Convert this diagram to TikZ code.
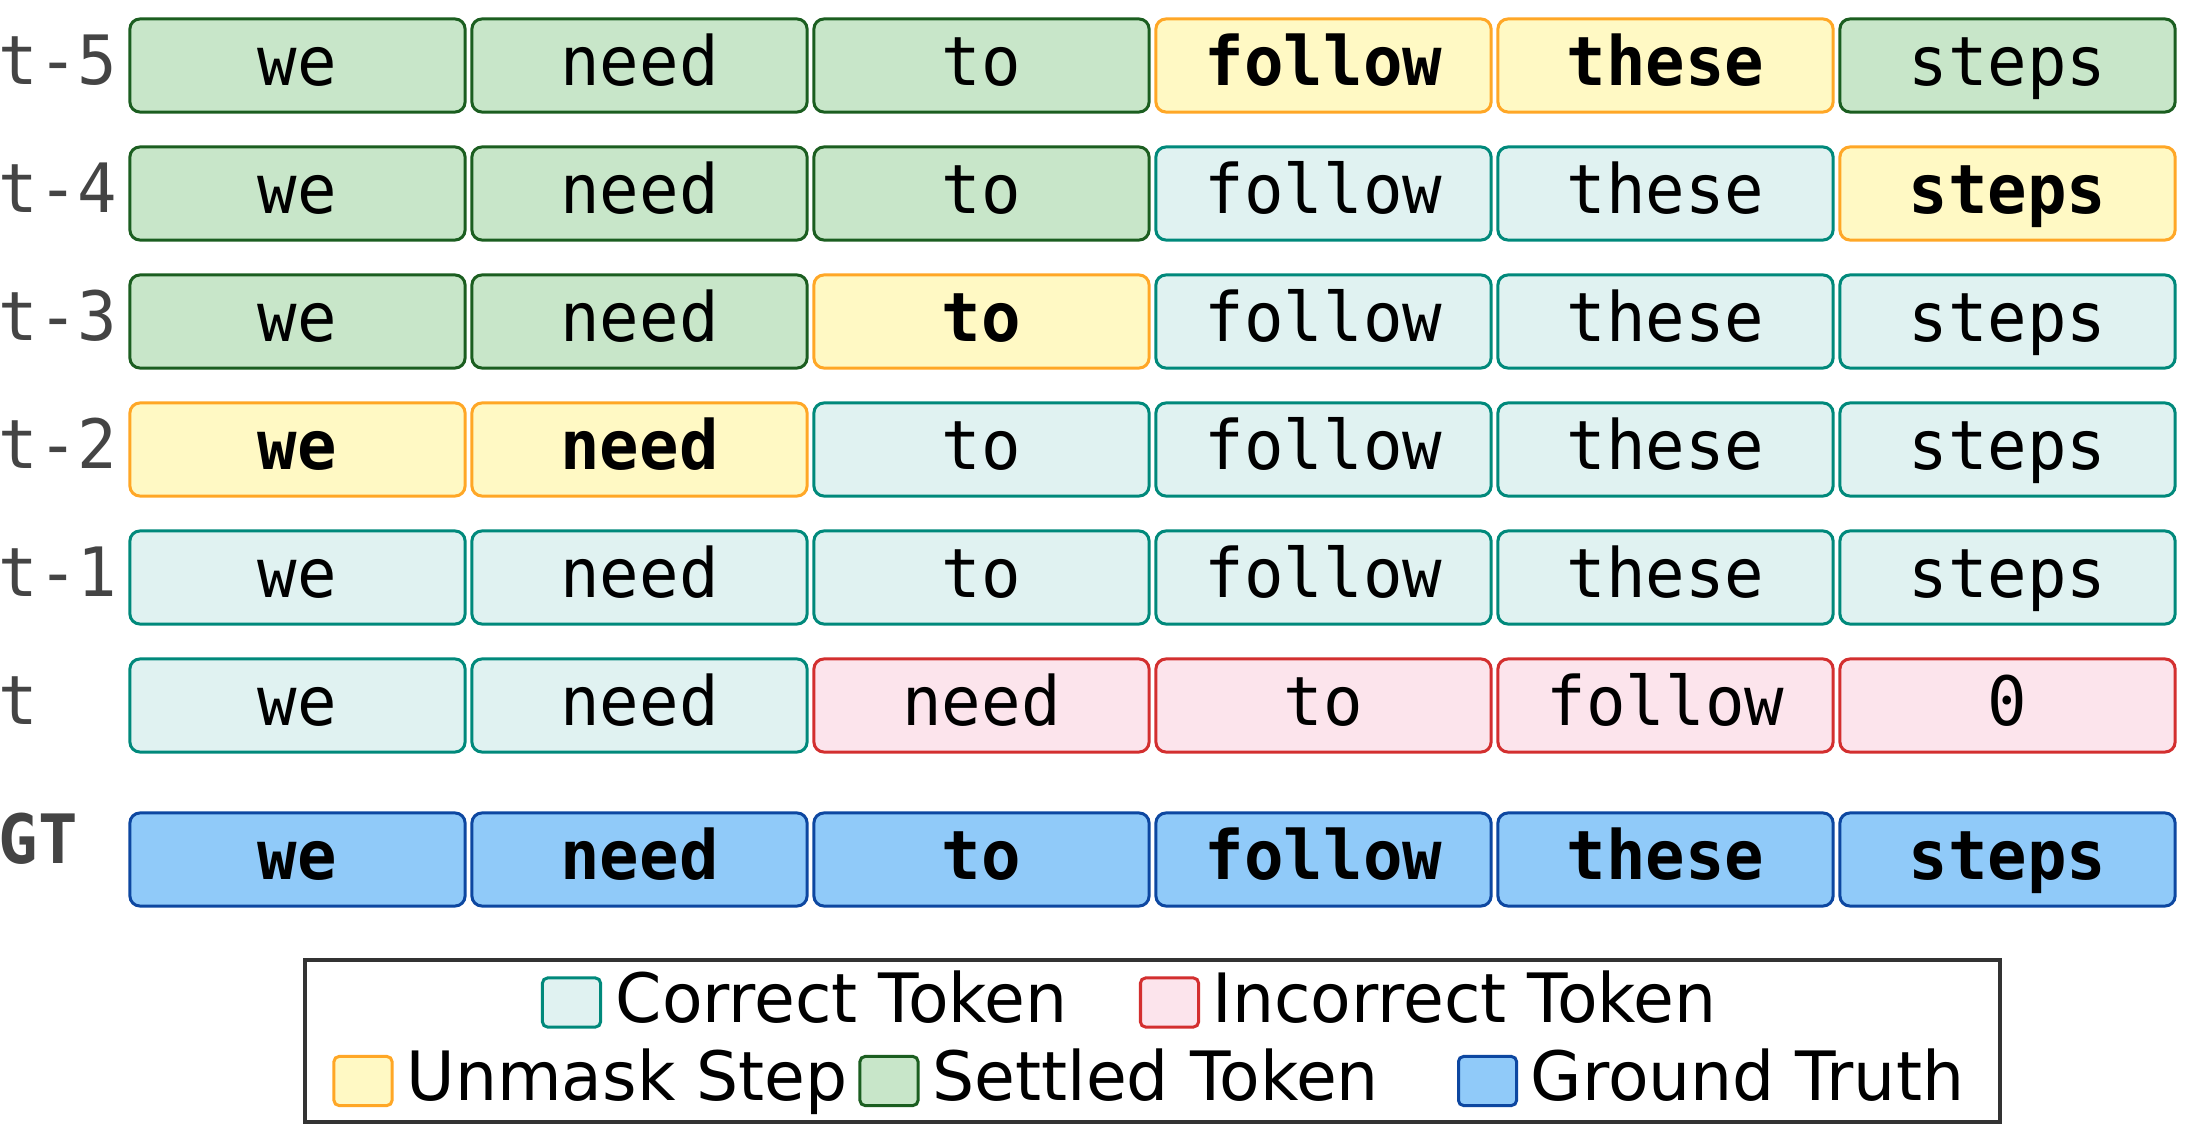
\documentclass[tikz,border=0pt]{standalone}
\usepackage{fontspec}
\setmainfont{DejaVu Sans}[FakeStretch=0.975]
\setmonofont{DejaVu Sans Mono}[FakeStretch=0.965]
\definecolor{corF}{HTML}{E0F2F1}\definecolor{corD}{HTML}{00897B}
\definecolor{incF}{HTML}{FCE4EC}\definecolor{incD}{HTML}{D32F2F}
\definecolor{unmF}{HTML}{FFF9C4}\definecolor{unmD}{HTML}{FFA726}
\definecolor{setF}{HTML}{C8E6C9}\definecolor{setD}{HTML}{1B5E20}
\definecolor{gtF}{HTML}{90CAF9}\definecolor{gtD}{HTML}{0D47A1}
\definecolor{lbl}{HTML}{444444}
\definecolor{frm}{HTML}{333333}
\newcommand{\tokfont}{\ttfamily\fontsize{19.35pt}{23pt}\selectfont}
\newcommand{\legfont}{\rmfamily\fontsize{19.35pt}{23pt}\selectfont}
\tikzset{
  tok/.style={rounded corners=0.1cm, line width=0.03cm, inner sep=0pt,
    minimum width=3.35cm, minimum height=0.93cm, text height=0.5cm, text depth=0.11cm,
    font=\tokfont},
  tokC/.style={tok, fill=corF, draw=corD},
  tokI/.style={tok, fill=incF, draw=incD},
  tokU/.style={tok, fill=unmF, draw=unmD, font=\tokfont\bfseries},
  tokS/.style={tok, fill=setF, draw=setD},
  tokG/.style={tok, fill=gtF, draw=gtD, font=\tokfont\bfseries},
  rowlbl/.style={anchor=base west, inner sep=0pt, text=lbl, font=\tokfont},
  patch/.style={rounded corners=0.05cm, line width=0.03cm, inner sep=0pt,
    minimum width=0.58cm, minimum height=0.49cm},
  legtxt/.style={anchor=base west, inner sep=0pt, font=\legfont},
}
\begin{document}
\begin{tikzpicture}[x=0.01cm, y=-0.01cm]
\useasboundingbox[fill=white] (0,0) rectangle (2200,1125);
% row labels
\node[rowlbl] (l0) at (-2,85) {t-5};
\node[rowlbl] (l1) at (-2,213) {t-4};
\node[rowlbl] (l2) at (-2,341) {t-3};
\node[rowlbl] (l3) at (-2,469) {t-2};
\node[rowlbl] (l4) at (-2,597) {t-1};
\node[rowlbl] (l5) at (-2,725) {t};
\node[rowlbl, font=\tokfont\bfseries] (lg) at (-2,863) {GT};
% rows
\foreach \st/\w [count=\c from 0] in {tokS/we, tokS/need, tokS/to, tokU/follow, tokU/these, tokS/steps}
  \node[\st] (r0c\c) at ({297.5+342*\c}, 65.5) {\w};
\foreach \st/\w [count=\c from 0] in {tokS/we, tokS/need, tokS/to, tokC/follow, tokC/these, tokU/steps}
  \node[\st] (r1c\c) at ({297.5+342*\c}, 193.5) {\w};
\foreach \st/\w [count=\c from 0] in {tokS/we, tokS/need, tokU/to, tokC/follow, tokC/these, tokC/steps}
  \node[\st] (r2c\c) at ({297.5+342*\c}, 321.5) {\w};
\foreach \st/\w [count=\c from 0] in {tokU/we, tokU/need, tokC/to, tokC/follow, tokC/these, tokC/steps}
  \node[\st] (r3c\c) at ({297.5+342*\c}, 449.5) {\w};
\foreach \st/\w [count=\c from 0] in {tokC/we, tokC/need, tokC/to, tokC/follow, tokC/these, tokC/steps}
  \node[\st] (r4c\c) at ({297.5+342*\c}, 577.5) {\w};
\foreach \st/\w [count=\c from 0] in {tokC/we, tokC/need, tokI/need, tokI/to, tokI/follow, tokI/0}
  \node[\st] (r5c\c) at ({297.5+342*\c}, 705.5) {\w};
\foreach \st/\w [count=\c from 0] in {tokG/we, tokG/need, tokG/to, tokG/follow, tokG/these, tokG/steps}
  \node[\st] (gc\c) at ({297.5+342*\c}, 859.5) {\w};
% legend
\draw[frm, line width=0.045cm] (305,960) rectangle (2000,1122);
\node[patch, fill=corF, draw=corD] (pC) at (571.5,1002.5) {};
\node[legtxt] (tC) at (615,1022) {Correct Token};
\node[patch, fill=incF, draw=incD] (pI) at (1169.5,1002.5) {};
\node[legtxt] (tI) at (1212,1022) {Incorrect Token};
\node[patch, fill=unmF, draw=unmD] (pU) at (363,1081) {};
\node[legtxt] (tU) at (406,1100) {Unmask Step};
\node[patch, fill=setF, draw=setD] (pS) at (889,1081) {};
\node[legtxt] (tS) at (932,1100) {Settled Token};
\node[patch, fill=gtF, draw=gtD] (pG) at (1487.5,1081) {};
\node[legtxt] (tG) at (1530,1100) {Ground Truth};
\end{tikzpicture}
\end{document}
